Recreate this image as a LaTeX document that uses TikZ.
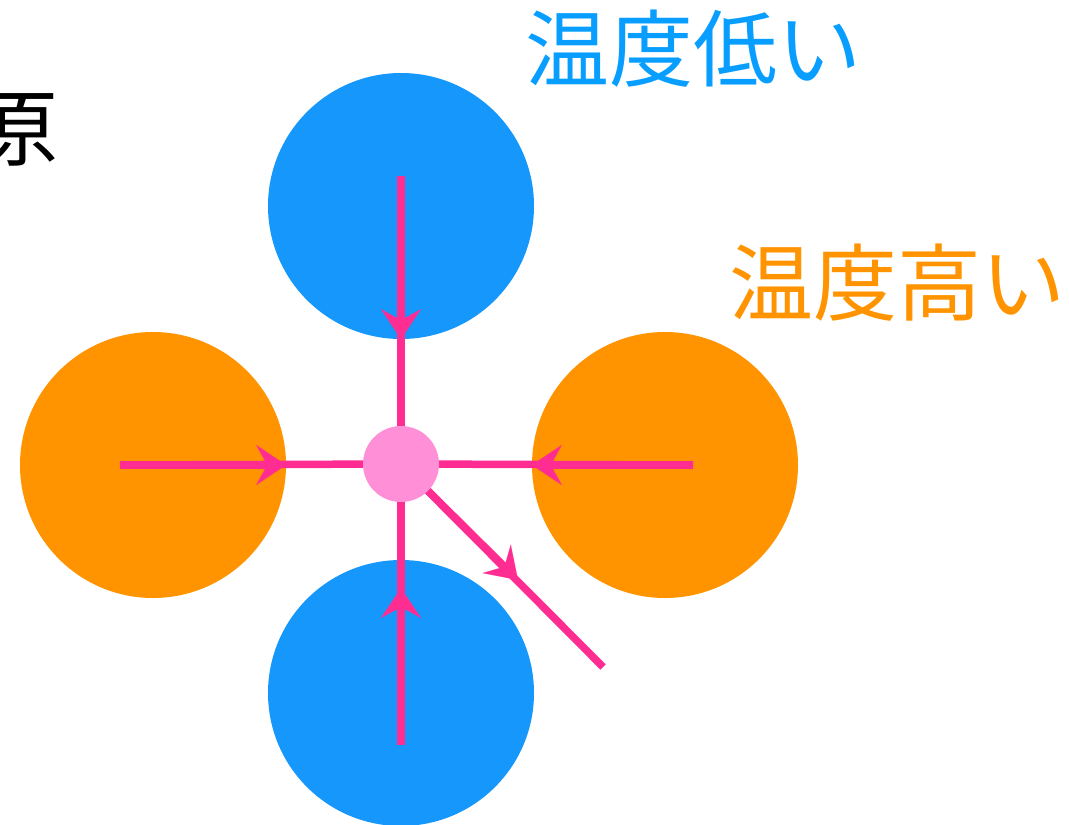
\documentclass[tikz,border=0pt]{standalone}
\usepackage{fontspec}
\setmainfont{Noto Sans CJK JP}
\usetikzlibrary{arrows.meta}
\definecolor{coldblue}{RGB}{22,151,251}
\definecolor{coldtext}{RGB}{8,158,255}
\definecolor{hotorange}{RGB}{255,148,0}
\definecolor{flowpink}{RGB}{255,45,146}
\definecolor{hubpink}{RGB}{255,143,214}
\begin{document}
\begin{tikzpicture}[x=1pt,y=-1pt,
  blob/.style={circle,minimum size=266pt,inner sep=0pt},
  flow/.style={line width=7.5pt,draw=flowpink},
  flowhead/.style={flow,-{Stealth[length=30pt,width=40pt,inset=11pt,line width=0.1pt]}},
  bigtext/.style={inner sep=0pt,font=\fontsize{84}{90}\selectfont}]
  \useasboundingbox (0,0) rectangle (1069,825); %

  % particles around the center
  \node[blob,fill=coldblue] (cold1) at (401,206) {};
  \node[blob,fill=coldblue] (cold2) at (401,693) {};
  \node[blob,fill=hotorange] (hot1) at (153,465) {};
  \node[blob,fill=hotorange] (hot2) at (665,465) {};

  \coordinate (hub0) at (401,464);
  \coordinate (cold1in) at (401,176);
  \coordinate (cold2in) at (401,745);
  \coordinate (cold2tip) at (401,588);
  \coordinate (hot1in) at (120,465);
  \coordinate (hot2in) at (693,465);
  \coordinate (away) at (603,667);
  \coordinate (awaytip) at (518,580);

  \draw[flow] (cold1in) -- (hub0);
  \draw[flowhead] (cold1in) -- (cold1.south);
  \draw[flow] (cold2in) -- (hub0);
  \draw[flowhead] (cold2in) -- (cold2tip);
  \draw[flow] (hot1in) -- (hub0);
  \draw[flowhead] (hot1in) -- (hot1.east);
  \draw[flow] (hot2in) -- (hub0);
  \draw[flowhead] (hot2in) -- (hot2.west);
  \draw[flow] (hub0) -- (away);
  \draw[flowhead] (hub0) -- (awaytip);

  \node[circle,fill=hubpink,minimum size=76pt,inner sep=0pt] (hub) at (hub0) {};

  % labels
  \node[bigtext,text=coldtext] (coldlabel) at (693,49) {温度低い};
  \node[bigtext,text=hotorange] (hotlabel) at (897,283) {温度高い};
  \node[bigtext,anchor=east] (source) at (59,130) {原};
\end{tikzpicture}
\end{document}
